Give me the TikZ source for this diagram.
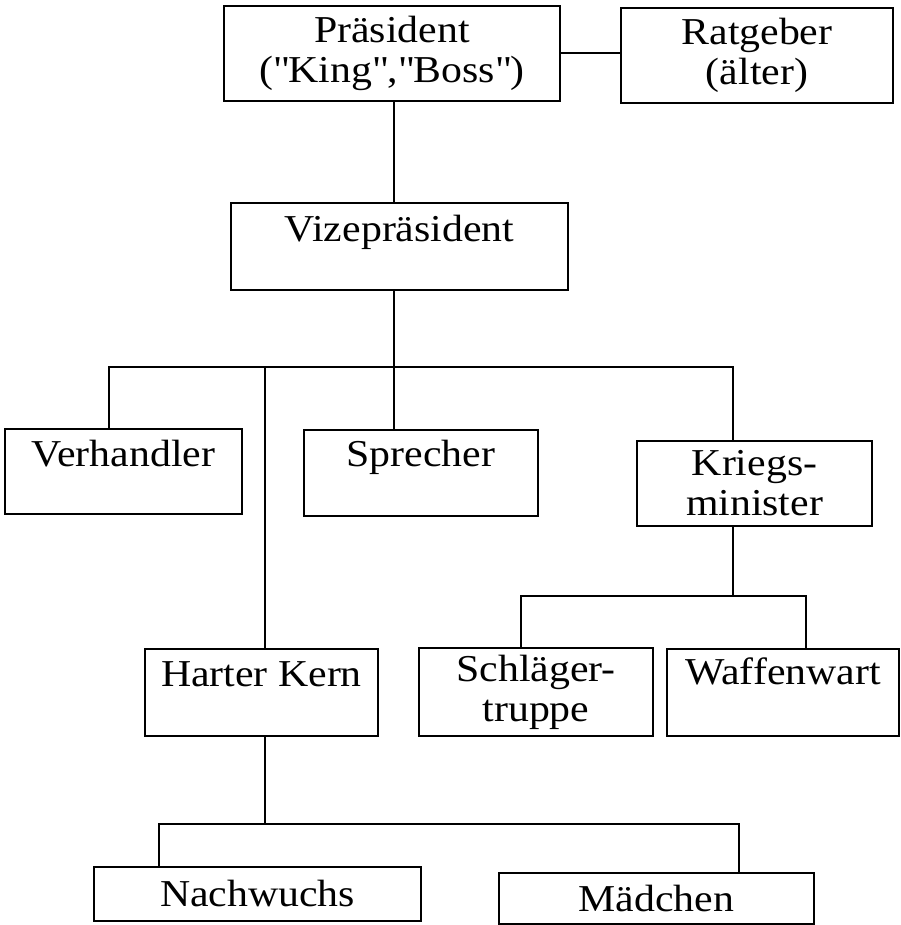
\documentclass[tikz,border=0pt]{standalone}
\usepackage{fontspec}
\setmainfont{Liberation Serif}[FakeStretch=1.1]
\tikzset{
  posten/.style = {draw=black, line width=2pt, inner sep=0pt, align=center,
    anchor=north west, font=\fontsize{38}{40}\selectfont},
  linie/.style = {draw=black, line width=2pt}
}

\begin{document}
\begin{tikzpicture}[x=1pt, y=-1pt]
\path [use as bounding box, fill=white] (0,0) rectangle (900,925);
% Spitze
\node [posten, minimum width=336pt, minimum height=95pt] (praes) at (223,5)
  {Präsident\\(\textquotedbl King\textquotedbl,\textquotedbl Boss\textquotedbl)};
\node [posten, minimum width=272pt, minimum height=95pt] (rat) at (620,7)
  {Ratgeber\\(älter)};
\node [posten, minimum width=337pt, text height=38pt, text depth=49pt] (vize) at (230,202)
  {Vizepräsident};
% mittlere Ebene
\node [posten, minimum width=237pt, text height=37pt, text depth=48pt] (verh) at (4,428)
  {Verhandler};
\node [posten, minimum width=234pt, text height=36pt, text depth=50pt] (sprech) at (303,429)
  {Sprecher};
\node [posten, minimum width=235pt, minimum height=85pt] (kriegs) at (636,440)
  {Kriegs-\\minister};
\node [posten, minimum width=233pt, text height=37pt, text depth=50pt] (kern) at (144,648)
  {Harter Kern};
\node [posten, minimum width=234pt, minimum height=88pt] (schl) at (418,647)
  {Schläger-\\truppe};
\node [posten, minimum width=232pt, text height=35pt, text depth=52pt] (waff) at (666,648)
  {Waffenwart};
% unten
\node [posten, minimum width=327pt, text height=39pt, text depth=15pt] (nach) at (93,866)
  {Nachwuchs};
\node [posten, minimum width=315pt, text height=38pt, text depth=13pt] (mad) at (498,872)
  {Mädchen};

% Verbindungen
\coordinate (vmitte) at (394,367);
\coordinate (bar1l) at (109,367);
\coordinate (bar1r) at (733,367);
\coordinate (kernv) at (265,367);
\coordinate (bar2l) at (521,596);
\coordinate (bar2r) at (806,596);
\coordinate (bar3l) at (159,824);
\coordinate (bar3r) at (739,824);

\draw [linie] (praes.east) -- (praes.east -| rat.west);
\draw [linie] (praes.south -| vmitte) -- (vize.north -| vmitte);
\draw [linie] (vize.south -| vmitte) -- (sprech.north -| vmitte);
\draw [linie] (verh.north -| bar1l) |- (bar1r) -- (kriegs.north -| bar1r);
\draw [linie] (kernv) -- (kern.north -| kernv);
\draw [linie] (kriegs.south -| bar1r) -- (bar1r |- bar2l);
\draw [linie] (schl.north -| bar2l) |- (bar2r) -- (waff.north -| bar2r);
\draw [linie] (kern.south -| kernv) -- (kernv |- bar3l);
\draw [linie] (nach.north -| bar3l) |- (bar3r) -- (mad.north -| bar3r);
\end{tikzpicture}
\end{document}
